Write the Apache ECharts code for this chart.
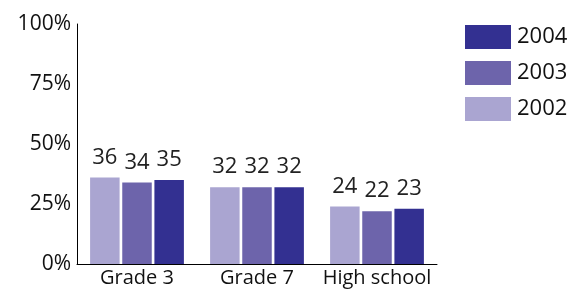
<!DOCTYPE html>
<html><head><meta charset="utf-8">
<script src="https://cdn.jsdelivr.net/npm/echarts@6/dist/echarts.min.js"></script>
<style>html,body{margin:0;padding:0;background:#fff}#c{width:569px;height:295px}</style>
</head><body><div id="c"></div>
<script>
const categories = ['Grade 3', 'Grade 7', 'High school'];
const years = ['2002', '2003', '2004'];
const values2002 = [36, 32, 24];
const values2003 = [34, 32, 22];
const values2004 = [35, 32, 23];
const yTicks = [0, 25, 50, 75, 100];
const colors = ['#aaa5d1', '#6d64ab', '#333091'];
const font = '"Open Sans", sans-serif';
const seriesValues = [values2002, values2003, values2004];
const chart = echarts.init(document.getElementById('c'));
chart.setOption({
  animation: false,
  grid: {left: 77, right: 132, top: 24, bottom: 31, containLabel: false},
  legend: {
    orient: 'vertical', left: 460, top: 20,
    data: ['2004', '2003', '2002'],
    itemWidth: 46, itemHeight: 24, itemGap: 12,
    icon: 'rect',
    textStyle: {fontFamily: font, fontSize: 22, color: '#111', padding: [0, 0, 0, 1]}
  },
  xAxis: {
    type: 'category', data: categories,
    axisLine: {lineStyle: {color: '#000', width: 1}},
    axisTick: {show: false},
    axisLabel: {interval: 0, fontFamily: font, fontSize: 20, color: '#111', margin: 4}
  },
  yAxis: {
    type: 'value', min: 0, max: 100, interval: 25,
    axisLine: {show: true, lineStyle: {color: '#000', width: 1}},
    axisTick: {show: false},
    splitLine: {show: false},
    axisLabel: {fontFamily: font, fontSize: 21, color: '#111', margin: 6,
      formatter: v => yTicks.includes(v) ? v + '%' : ''}
  },
  series: years.map((y, i) => ({
    name: y, type: 'bar', data: seriesValues[i],
    barWidth: 29.5, barGap: '9%',
    itemStyle: {color: colors[i]},
    label: {show: true, position: 'top', distance: 9, fontFamily: font, fontSize: 22, color: '#222'}
  }))
});
</script></body></html>
